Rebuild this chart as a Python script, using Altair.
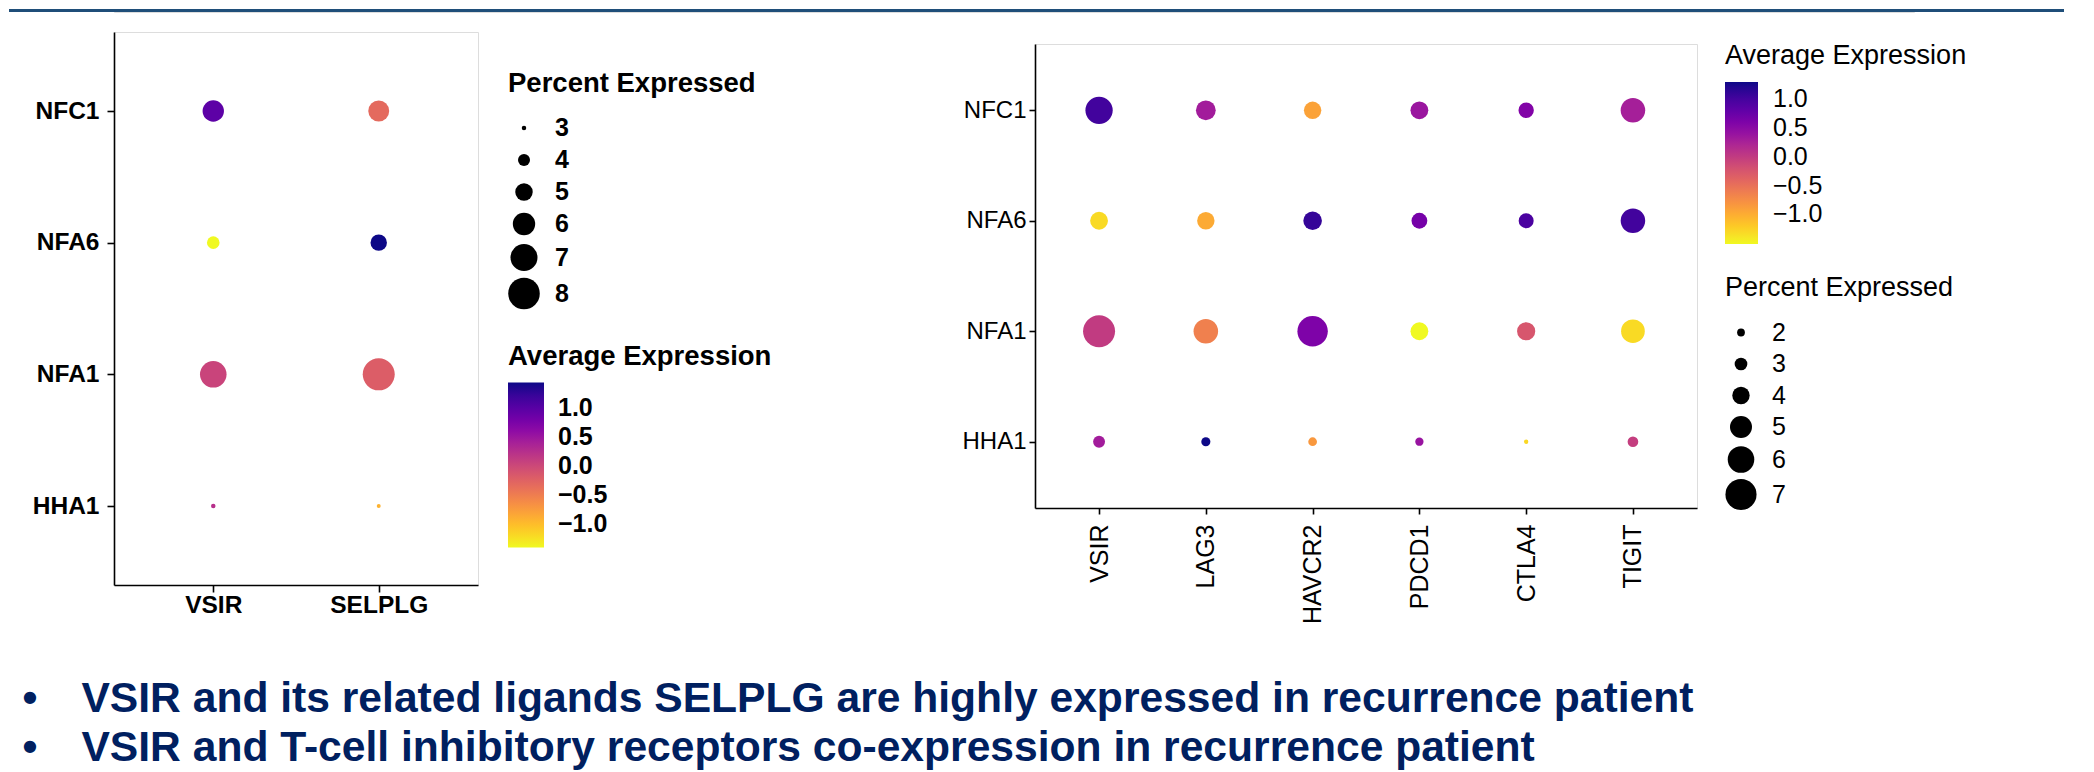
import altair as alt
import pandas as pd

FONT = "Liberation Sans"
NAVY = "#002060"
BAR = "#1F4E79"

# ---------------- data ----------------
samples = ["NFC1", "NFA6", "NFA1", "HHA1"]

left_features = ["VSIR", "SELPLG"]
left_avg_vsir = [0.96, -1.40, 0.04, 0.24]
left_avg_selplg = [-0.32, 1.43, -0.20, -0.92]
left_pct_vsir = [5.8, 4.1, 6.9, 3.0]
left_pct_selplg = [5.7, 4.8, 8.1, 2.95]

right_features = ["VSIR", "LAG3", "HAVCR2", "PDCD1", "CTLA4", "TIGIT"]
right_avg_nfc1 = [1.01, 0.31, -0.92, 0.37, 0.56, 0.28]
right_avg_nfa6 = [-1.31, -0.98, 1.09, 0.65, 0.95, 1.01]
right_avg_nfa1 = [0.00, -0.64, 0.59, -1.51, -0.25, -1.31]
right_avg_hha1 = [0.31, 1.29, -0.84, 0.39, -1.29, -0.03]
right_pct_nfc1 = [6.16, 4.52, 4.00, 4.09, 3.57, 5.55]
right_pct_nfa6 = [4.09, 4.00, 4.26, 3.66, 3.49, 5.55]
right_pct_nfa1 = [7.20, 5.55, 6.85, 4.09, 4.18, 5.37]
right_pct_hha1 = [2.83, 2.26, 2.18, 2.10, 1.39, 2.58]

bullet_1 = "VSIR and its related ligands SELPLG are highly expressed in recurrence patient"
bullet_2 = "VSIR and T-cell inhibitory receptors co-expression in recurrence patient"

# ---------------- tables ----------------
left_rows = []
for feat, avgs, pcts in [("VSIR", left_avg_vsir, left_pct_vsir),
                         ("SELPLG", left_avg_selplg, left_pct_selplg)]:
    for s, a, p in zip(samples, avgs, pcts):
        left_rows.append({"feature": feat, "sample": s, "avg": a, "pct": p})
left_df = pd.DataFrame(left_rows)

right_rows = []
for s, avgs, pcts in [("NFC1", right_avg_nfc1, right_pct_nfc1),
                      ("NFA6", right_avg_nfa6, right_pct_nfa6),
                      ("NFA1", right_avg_nfa1, right_pct_nfa1),
                      ("HHA1", right_avg_hha1, right_pct_hha1)]:
    for f, a, p in zip(right_features, avgs, pcts):
        right_rows.append({"feature": f, "sample": s, "avg": a, "pct": p})
right_df = pd.DataFrame(right_rows)

# ---------------- left dot plot ----------------
L_AX = dict(labelFont=FONT, labelFontSize=24.5, labelFontWeight="bold", labelColor="black",
            domainColor="black", domainWidth=1.6, tickColor="black", tickWidth=1.6,
            tickSize=7, grid=False, title=None)

left = alt.Chart(left_df).mark_circle(opacity=1).encode(
    x=alt.X("feature:N", sort=left_features,
            scale=alt.Scale(type="point", padding=0.6),
            axis=alt.Axis(labelAngle=0, labelPadding=1, **L_AX)),
    y=alt.Y("sample:N", sort=samples,
            scale=alt.Scale(type="point", padding=0.6),
            axis=alt.Axis(labelPadding=8, **L_AX)),
    size=alt.Size("pct:Q",
                  scale=alt.Scale(type="pow", exponent=2, domain=[2.8, 8.1], range=[0, 1024]),
                  legend=alt.Legend(title="Percent Expressed", orient="none", legendX=394, legendY=38,
                                    values=[3, 4, 5, 6, 7, 8], format="d", symbolType="circle",
                                    symbolFillColor="black", symbolStrokeWidth=0, symbolOpacity=1,
                                    titleFont=FONT, titleFontSize=27.5, titleFontWeight="bold",
                                    titleColor="black", titlePadding=18, titleLimit=600,
                                    labelFont=FONT, labelFontSize=25, labelFontWeight="bold",
                                    labelColor="black", labelOffset=15, rowPadding=6, padding=0)),
    color=alt.Color("avg:Q",
                    scale=alt.Scale(scheme="plasma", reverse=True, domain=[-1.40, 1.43]),
                    legend=alt.Legend(title="Average Expression", orient="none", legendX=394, legendY=311,
                                      type="gradient", direction="vertical",
                                      gradientLength=165, gradientThickness=36, gradientStrokeWidth=0,
                                      values=[-1, -0.5, 0, 0.5, 1], format=".1f", labelOverlap=False,
                                      titleFont=FONT, titleFontSize=27.5, titleFontWeight="bold",
                                      titleColor="black", titlePadding=12, titleLimit=600,
                                      labelFont=FONT, labelFontSize=25, labelFontWeight="bold",
                                      labelColor="black", labelOffset=14, padding=0)),
).properties(width=364, height=553)

# ---------------- right dot plot ----------------
R_AX = dict(labelFont=FONT, labelColor="black",
            domainColor="black", domainWidth=1.6, tickColor="black", tickWidth=1.6,
            tickSize=6, grid=False, title=None)

right = alt.Chart(right_df).mark_circle(opacity=1).encode(
    x=alt.X("feature:N", sort=right_features,
            scale=alt.Scale(type="point", padding=0.6),
            axis=alt.Axis(labelAngle=270, labelPadding=10, labelFontSize=25, **R_AX)),
    y=alt.Y("sample:N", sort=samples,
            scale=alt.Scale(type="point", padding=0.6),
            axis=alt.Axis(labelPadding=3, labelFontSize=24, **R_AX)),
    size=alt.Size("pct:Q",
                  scale=alt.Scale(type="pow", exponent=2, domain=[1.0, 7.2], range=[0, 1024]),
                  legend=alt.Legend(title="Percent Expressed", orient="none", legendX=690, legendY=231,
                                    values=[2, 3, 4, 5, 6, 7], format="d", symbolType="circle",
                                    symbolFillColor="black", symbolStrokeWidth=0, symbolOpacity=1,
                                    titleFont=FONT, titleFontSize=27, titleColor="black",
                                    titleFontWeight="normal", titlePadding=18, titleLimit=600,
                                    labelFont=FONT, labelFontSize=25, labelColor="black",
                                    labelOffset=15, rowPadding=5.5, padding=0)),
    color=alt.Color("avg:Q",
                    scale=alt.Scale(scheme="plasma", reverse=True, domain=[-1.51, 1.29]),
                    legend=alt.Legend(title="Average Expression", orient="none", legendX=690, legendY=-1,
                                      type="gradient", direction="vertical",
                                      gradientLength=162, gradientThickness=33, gradientStrokeWidth=0,
                                      values=[-1, -0.5, 0, 0.5, 1], format=".1f", labelOverlap=False,
                                      titleFont=FONT, titleFontSize=27, titleColor="black",
                                      titleFontWeight="normal", titlePadding=12, titleLimit=600,
                                      labelFont=FONT, labelFontSize=25, labelColor="black",
                                      labelOffset=15, padding=0)),
).properties(width=662, height=464)

# empty spacer that lowers the right panel a little
spacer = alt.Chart(pd.DataFrame({"k": [0]})).mark_point(opacity=0).properties(width=10, height=10)
right_col = alt.vconcat(spacer, right, spacing=0).resolve_scale(
    x="independent", y="independent", color="independent", size="independent")

main = alt.hconcat(left, right_col, spacing=188).resolve_scale(
    x="independent", y="independent", color="independent", size="independent"
).resolve_legend(color="independent", size="independent")

# slide header band
top_bar = alt.Chart(pd.DataFrame({"k": [0]})).mark_rect(color=BAR).encode(
    x=alt.value(-105), x2=alt.value(1950), y=alt.value(0), y2=alt.value(3)
).properties(width=1800, height=3)

chart = alt.vconcat(top_bar, main, spacing=18).resolve_scale(
    x="independent", y="independent", color="independent", size="independent"
).properties(
    title=alt.TitleParams(text="•\u00a0\u00a0\u00a0\u2009" + bullet_1,
                          subtitle="•\u00a0\u00a0\u00a0\u2009" + bullet_2,
                          orient="bottom", anchor="start", offset=54, dx=14,
                          font=FONT, fontSize=42.6, fontWeight="bold", color=NAVY,
                          subtitleFont=FONT, subtitleFontSize=42.6, subtitleFontWeight="bold",
                          subtitleColor=NAVY, subtitlePadding=6),
    padding={"left": 0, "top": 0, "right": 0, "bottom": 0},
    background="white",
).configure_view(stroke=None).configure(font=FONT)

chart.save("out.html", embed_options={"renderer": "svg", "actions": False})
